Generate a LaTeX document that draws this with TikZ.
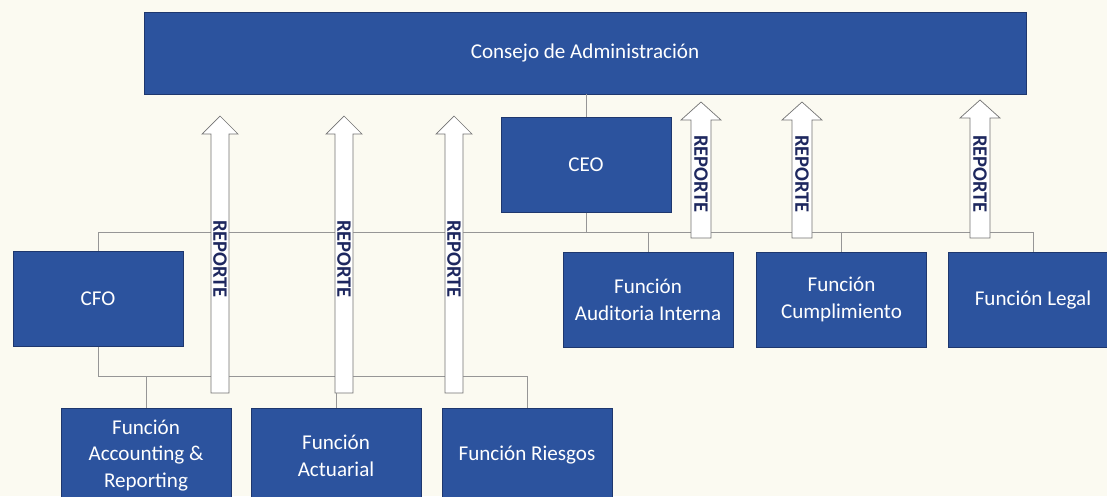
\documentclass[tikz,border=0pt]{standalone}
\usepackage{fontspec}
\setmainfont{Carlito}
\definecolor{boxblue}{RGB}{44,83,158}
\definecolor{boxedge}{RGB}{30,55,110}
\definecolor{paper}{RGB}{251,250,241}
\definecolor{linegray}{RGB}{150,150,150}
\definecolor{repnavy}{RGB}{30,40,95}
\begin{document}
\begin{tikzpicture}[x=0.03cm,y=-0.03cm,
    unit/.style={draw=boxedge, fill=boxblue, text=white, minimum width=5.1cm,
      minimum height=2.85cm, align=center, inner sep=0pt,
      font=\fontsize{18}{23}\selectfont},
    conn/.style={draw=linegray, line width=0.6pt},
    reparrow/.style={draw=gray!90!black, fill=white, line width=0.6pt},
    reptext/.style={text=repnavy, font=\fontsize{17.5}{17.5}\selectfont\bfseries,
      rotate=-90, inner sep=0pt}]
  \path[use as bounding box, fill=paper] (0,0) rectangle (1107,496);
  % boxes
  \node[unit, minimum width=26.46cm, minimum height=2.46cm] (consejo) at (585,53) {Consejo de Administración};
  \node[unit] (ceo) at (586,165) {CEO};
  \node[unit] (cfo) at (98,299) {CFO};
  \node[unit] (audit) at (648,299.5) {Función\\Auditoria Interna};
  \node[unit] (cumpl) at (841.5,299.5) {Función\\Cumplimiento};
  \node[unit] (legal) at (1033,299.5) {Función Legal};
  \node[unit] (acct) at (146,455.5) {Función\\Accounting \&\\Reporting};
  \node[unit] (actu) at (336,455.5) {Función\\Actuarial};
  \node[unit] (riesgos) at (527,455.5) {Función Riesgos};
  \coordinate (busL) at (98,232);
  \coordinate (busR) at (1033,232);
  \coordinate (busB) at (527,376);
  \begin{scope}[conn]
    \draw (consejo.south -| ceo.north) -- (ceo.north);
    \draw (ceo.south) -- (ceo.south |- busL);
    \draw (busL) -- (busR);
    \draw (busL) -- (cfo.north);
    \draw (audit.north) -- (audit.north |- busL);
    \draw (cumpl.north) -- (cumpl.north |- busL);
    \draw (legal.north) -- (busR);
    \draw (cfo.south) -- (cfo.south |- busB) -- (busB) -- (riesgos.north);
    \draw (acct.north) -- (acct.north |- busB);
    \draw (actu.north) -- (actu.north |- busB);
  \end{scope}
  % reporte arrows
  \foreach \ax/\ay/\yb/\hw/\aw/\ty/\n in {220/116/393/9/18/259/1, 344/116/393/9/18/259/2,
      454/116/393/9/18/259/3, 701/102/238/10/20/174/4, 802/102/238/10/20/174/5,
      980/100/238/10/20/174/6} {
    \draw[reparrow] (\ax-\hw,\yb) -- (\ax-\hw,\ay+18) -- (\ax-\aw,\ay+18) -- (\ax,\ay)
      -- (\ax+\aw,\ay+18) -- (\ax+\hw,\ay+18) -- (\ax+\hw,\yb) -- cycle;
    \node[reptext] (rep\n) at (\ax,\ty) {REPORTE};
  }
\end{tikzpicture}
\end{document}
